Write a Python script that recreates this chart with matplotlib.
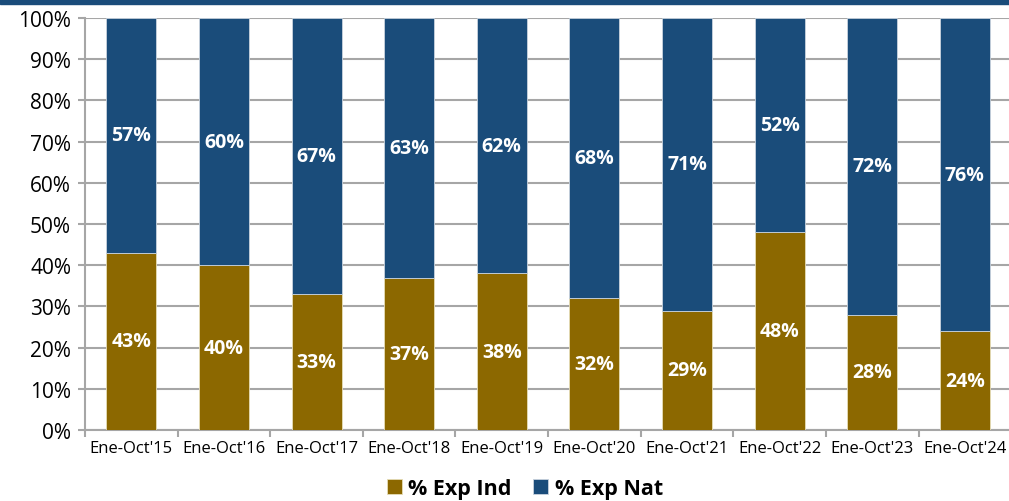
import numpy as np
import matplotlib.pyplot as plt
from matplotlib.patches import Rectangle
from matplotlib.ticker import PercentFormatter

# data
periods = ["Ene-Oct'15", "Ene-Oct'16", "Ene-Oct'17", "Ene-Oct'18", "Ene-Oct'19",
           "Ene-Oct'20", "Ene-Oct'21", "Ene-Oct'22", "Ene-Oct'23", "Ene-Oct'24"]
exp_ind = [43, 40, 33, 37, 38, 32, 29, 48, 28, 24]
exp_nat = [57, 60, 67, 63, 62, 68, 71, 52, 72, 76]

gold = '#8C6800'
blue = '#1A4C7A'
grey = '#A6A6A6'

plt.rcParams['font.family'] = ['Open Sans', 'DejaVu Sans']

fig = plt.figure(figsize=(10.09, 5.02), dpi=100)
ax = fig.add_axes([0.0842, 0.1414, 0.918, 0.8206])

# thin banner on top
fig.patches.append(Rectangle((0, 0.99), 1, 0.01, transform=fig.transFigure,
                             color=blue, zorder=0))

x = np.arange(len(periods))
w = 0.54
b1 = ax.bar(x, exp_ind, w, color=gold, edgecolor='#E6DDB8', linewidth=0.6,
            label='% Exp Ind', zorder=3)
b2 = ax.bar(x, exp_nat, w, bottom=exp_ind, color=blue, edgecolor='#C9D3DE',
            linewidth=0.6, label='% Exp Nat', zorder=3)

for i in range(len(periods)):
    ax.text(x[i], exp_ind[i] / 2, f'{exp_ind[i]}%', ha='center', va='center',
            color='white', fontsize=14, fontweight='bold', zorder=4)
    ax.text(x[i], exp_ind[i] + exp_nat[i] / 2, f'{exp_nat[i]}%', ha='center',
            va='center', color='white', fontsize=14, fontweight='bold', zorder=4)

ax.set_xlim(-0.5, len(periods) - 0.5)
ax.set_ylim(0, 100)
ax.set_yticks(np.arange(0, 101, 10))
ax.yaxis.set_major_formatter(PercentFormatter(decimals=0))
ax.set_xticks(x)
ax.set_xticklabels(periods, fontsize=12)
ax.set_xticks(np.arange(-0.5, len(periods), 1), minor=True)
ax.tick_params(axis='x', which='major', length=0, pad=7)
ax.tick_params(axis='x', which='minor', length=5, color=grey, width=1.5)
ax.tick_params(axis='y', length=5, color=grey, width=1.5, labelsize=15, pad=5)
ax.grid(axis='y', color=grey, linewidth=1.5, zorder=0)
for s in ['top', 'right']:
    ax.spines[s].set_visible(False)
for s in ['left', 'bottom']:
    ax.spines[s].set_color(grey)
    ax.spines[s].set_linewidth(1.5)

fig.legend(handles=[b1, b2], loc='center', bbox_to_anchor=(0.52, 0.024), ncol=2,
           frameon=False, handlelength=0.7, handleheight=0.7, handletextpad=0.3,
           columnspacing=1.0, prop={'size': 15.5, 'weight': 'bold'})

fig.savefig('out.png', dpi=100)
